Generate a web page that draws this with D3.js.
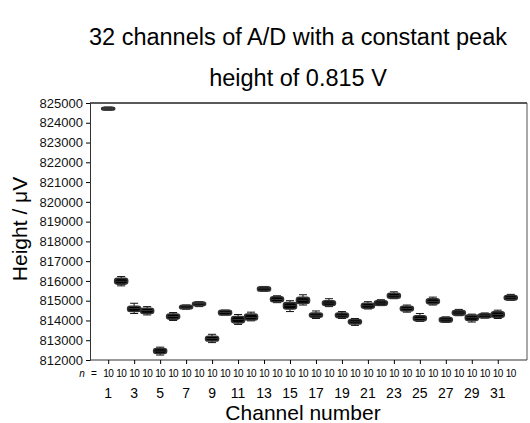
<!DOCTYPE html>
<html>
<head>
<meta charset="utf-8">
<script src="https://cdn.jsdelivr.net/npm/d3@7"></script>
<style>
  body { margin: 0; background: #fff; }
  text { font-family: "Liberation Sans", Arial, sans-serif; }
</style>
</head>
<body>
<div id="chart"></div>
<script>
(function () {

    var width = 530, height = 423

    // channel data (µV)
    var channels = d3.range(1, 33)
    var medians = [824720, 815980, 814600, 814500, 812450, 814200, 814680, 814850,
                   813080, 814400, 814050, 814150, 815600, 815060, 814750, 815020,
                   814260, 814880, 814260, 813930, 814750, 814880, 815250, 814600,
                   814100, 814960, 814030, 814380, 814140, 814240, 814300, 815150]
    var q1 = [824650, 815840, 814450, 814350, 812330, 814070, 814590, 814750,
              812960, 814280, 813880, 814020, 815490, 814950, 814580, 814860,
              814160, 814760, 814150, 813820, 814620, 814770, 815130, 814480,
              813980, 814840, 813920, 814270, 814000, 814140, 814160, 815040]
    var q3 = [824780, 816130, 814720, 814620, 812580, 814330, 814770, 814930,
              813200, 814510, 814200, 814320, 815700, 815200, 814900, 815170,
              814380, 815000, 814380, 814050, 814870, 815000, 815380, 814720,
              814240, 815100, 814150, 814500, 814270, 814340, 814440, 815260]
    var lows = [824640, 815750, 814350, 814280, 812250, 814000, 814570, 814700,
                812880, 814280, 813800, 813980, 815480, 814900, 814450, 814780,
                814100, 814700, 814100, 813750, 814580, 814750, 815100, 814420,
                813950, 814780, 813900, 814240, 813920, 814120, 814100, 815020]
    var highs = [824790, 816220, 814870, 814700, 812650, 814400, 814780, 814950,
                 813300, 814520, 814300, 814420, 815720, 815250, 815000, 815300,
                 814480, 815100, 814450, 814100, 814950, 815050, 815450, 814780,
                 814350, 815180, 814180, 814560, 814320, 814380, 814520, 815320]
    var counts = channels.map(function () { return 10 })
    var yTicks = d3.range(812000, 825001, 1000)
    var xTicks = d3.range(1, 33, 2)

    var data = channels.map(function (c, i) {
        return { ch: c, med: medians[i], q1: q1[i], q3: q3[i], lo: lows[i], hi: highs[i], n: counts[i] }
    })

    var left = 90, right = 527, top = 103, bottom = 360

    var x = d3.scaleLinear().domain([-0.4, 33.25]).range([left, right])
    var y = d3.scaleLinear().domain([812000, 825000]).range([bottom, top])

    var svg = d3.select('#chart')
        .append('svg')
        .attr('width', width)
        .attr('height', height)

    // title
    svg.append('text')
        .attr('x', 298).attr('y', 45)
        .attr('text-anchor', 'middle')
        .attr('font-size', 23.5)
        .text('32 channels of A/D with a constant peak')
    svg.append('text')
        .attr('x', 298).attr('y', 86)
        .attr('text-anchor', 'middle')
        .attr('font-size', 23.5)
        .text('height of 0.815 V')

    // frame top / right
    svg.append('line')
        .attr('x1', left).attr('x2', right).attr('y1', top).attr('y2', top)
        .attr('stroke', '#222').attr('stroke-width', 1.6)
    svg.append('line')
        .attr('x1', right).attr('x2', right).attr('y1', top).attr('y2', bottom)
        .attr('stroke', '#555').attr('stroke-width', 1)

    // y axis
    var yAxis = svg.append('g')
        .attr('transform', 'translate(' + left + ',0)')
        .call(d3.axisLeft(y).tickValues(yTicks).tickSize(4).tickPadding(3).tickFormat(d3.format('d')))
    yAxis.selectAll('text').attr('font-size', 13).attr('fill', '#111')
        .style('font-family', '"Liberation Sans", Arial, sans-serif')
    yAxis.select('.domain').attr('stroke', '#333')

    // x axis
    var xAxis = svg.append('g')
        .attr('transform', 'translate(0,' + bottom + ')')
        .call(d3.axisBottom(x).tickValues(xTicks).tickSize(4).tickSizeOuter(0).tickFormat(''))
    xAxis.select('.domain').attr('stroke', '#333')
        .attr('d', 'M' + left + ',0H' + right)

    svg.selectAll('.xlab')
        .data(xTicks)
        .enter().append('text')
        .attr('class', 'xlab')
        .attr('x', function (d) { return x(d) })
        .attr('y', 398)
        .attr('text-anchor', 'middle')
        .attr('font-size', 14)
        .text(function (d) { return d })

    // n = row
    svg.append('text')
        .attr('x', 82).attr('y', 377)
        .attr('font-size', 10)
        .attr('text-anchor', 'middle')
        .attr('font-style', 'italic')
        .text('n')
    svg.append('text')
        .attr('x', 94).attr('y', 377)
        .attr('font-size', 10)
        .attr('text-anchor', 'middle')
        .text('=')
    svg.selectAll('.nlab')
        .data(data)
        .enter().append('text')
        .attr('class', 'nlab')
        .attr('x', function (d) { return x(d.ch) })
        .attr('y', 377)
        .attr('text-anchor', 'middle')
        .attr('font-size', 10)
        .attr('letter-spacing', -0.6)
        .text(function (d) { return d.n })

    // axis titles
    svg.append('text')
        .attr('x', 303).attr('y', 420)
        .attr('text-anchor', 'middle')
        .attr('font-size', 21)
        .text('Channel number')
    svg.append('text')
        .attr('transform', 'translate(27,229) rotate(-90)')
        .attr('text-anchor', 'middle')
        .attr('font-size', 21)
        .text('Height / μV')

    // box plots
    var boxW = 13, capW = 8
    var boxes = svg.selectAll('.box')
        .data(data)
        .enter().append('g')
        .attr('class', 'box')

    boxes.append('line')
        .attr('x1', function (d) { return x(d.ch) })
        .attr('x2', function (d) { return x(d.ch) })
        .attr('y1', function (d) { return y(d.lo) })
        .attr('y2', function (d) { return y(d.hi) })
        .attr('stroke', '#111')
    boxes.selectAll('.cap')
        .data(function (d) { return [d.lo, d.hi].map(function (v) { return { ch: d.ch, v: v } }) })
        .enter().append('line')
        .attr('x1', function (d) { return x(d.ch) - capW / 2 })
        .attr('x2', function (d) { return x(d.ch) + capW / 2 })
        .attr('y1', function (d) { return y(d.v) })
        .attr('y2', function (d) { return y(d.v) })
        .attr('stroke', '#111')
    boxes.append('rect')
        .attr('x', function (d) { return x(d.ch) - boxW / 2 })
        .attr('width', boxW)
        .attr('y', function (d) { return y(d.q3) })
        .attr('height', function (d) { return y(d.q1) - y(d.q3) })
        .attr('rx', 2.5)
        .attr('fill', '#000')
        .attr('stroke', '#333')
        .attr('stroke-width', 1.6)
    boxes.append('line')
        .attr('x1', function (d) { return x(d.ch) - boxW / 2 + 1 })
        .attr('x2', function (d) { return x(d.ch) + boxW / 2 - 1 })
        .attr('y1', function (d) { return y(d.med) })
        .attr('y2', function (d) { return y(d.med) })
        .attr('stroke', '#555')
        .attr('stroke-width', 0.6)

})()
</script>
</body>
</html>
